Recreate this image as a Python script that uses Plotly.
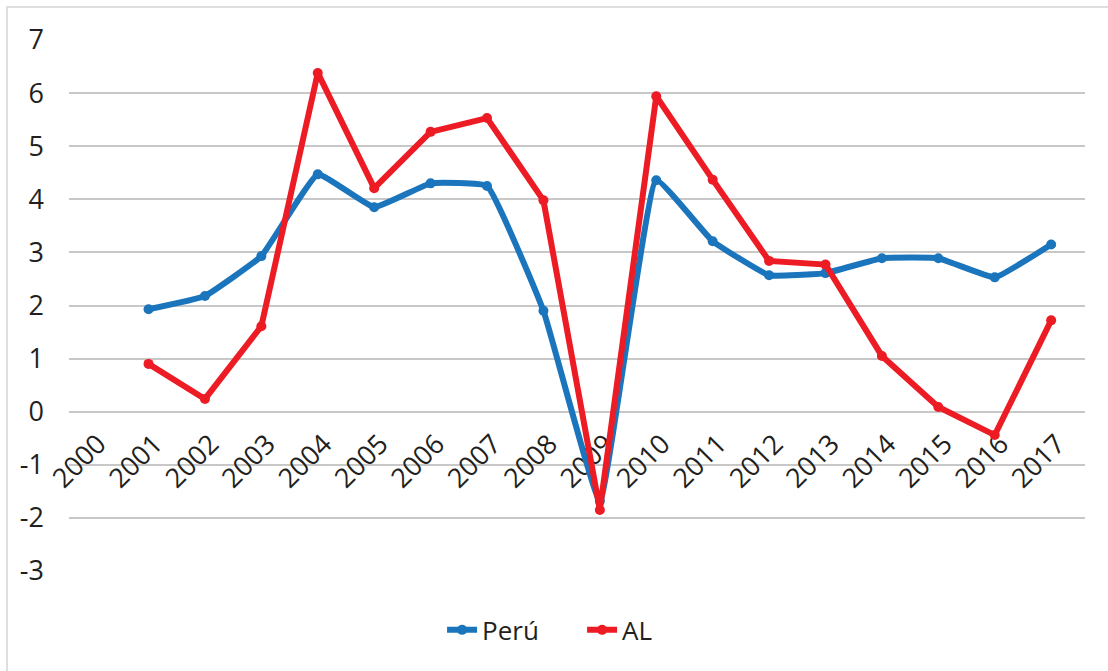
import plotly.graph_objects as go

years = [str(y) for y in range(2000, 2018)]
peru = [None, 1.93, 2.18, 2.93, 4.47, 3.85, 4.30, 4.25, 1.90, -1.68,
        4.36, 3.21, 2.57, 2.61, 2.89, 2.89, 2.53, 3.15]
al = [None, 0.90, 0.24, 1.61, 6.38, 4.21, 5.27, 5.53, 3.98, -1.85,
      5.94, 4.37, 2.84, 2.77, 1.05, 0.09, -0.44, 1.72]

y_ticks = [7, 6, 5, 4, 3, 2, 1, 0, -1, -2, -3]
y_labels = ["7", "6", "5", "4", "3", "2", "1", "0", "-1", "-2", "-3"]

fig = go.Figure()
fig.add_trace(go.Scatter(x=years, y=peru, name="Perú", mode="lines+markers",
                         line=dict(color="#1a75bc", width=6, shape="spline", smoothing=0.3),
                         marker=dict(size=10, color="#1a75bc")))
fig.add_trace(go.Scatter(x=years, y=al, name="AL", mode="lines+markers",
                         line=dict(color="#ed1c24", width=6),
                         marker=dict(size=10, color="#ed1c24")))

# light frame round the chart (right and bottom edges fall outside the picture)
fig.add_shape(type="rect", xref="paper", yref="paper",
              x0=-0.061, x1=1.1, y0=-0.3, y1=1.062,
              line=dict(color="#d4d4d4", width=1.5), layer="below")

fig.update_layout(
    width=1108, height=671,
    margin=dict(l=69, r=23, t=40, b=100),
    paper_bgcolor="white", plot_bgcolor="white",
    font=dict(family="Open Sans, Noto Sans, sans-serif", size=26, color="#231f20"),
    showlegend=True,
    legend=dict(orientation="h", x=0.505, xanchor="center", y=-0.111, yanchor="middle",
                font=dict(size=26), entrywidth=95),
    xaxis=dict(type="category", range=[-0.41, 17.6], tickangle=-45,
               anchor="free", position=0.3, showgrid=False, showline=False,
               zeroline=False, ticks="", tickfont=dict(size=27),
               ticklabelstandoff=10, ticklabelshift=6,
               layer="below traces"),
    yaxis=dict(range=[-3, 7], tickvals=y_ticks, ticktext=y_labels,
               showgrid=True, gridcolor="#c8c8c8", gridwidth=2,
               zeroline=False, showline=False, ticks="",
               ticklabelstandoff=24, tickfont=dict(size=27),
               layer="below traces"),
)

fig.write_html("out.html", config={"displayModeBar": False},
               post_script="document.body.style.margin='0';")
